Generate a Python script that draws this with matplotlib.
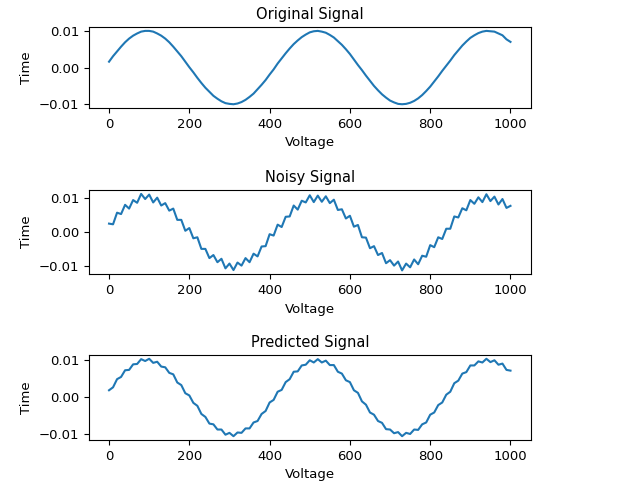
import numpy as np
import matplotlib
matplotlib.use("Agg")
import matplotlib.pyplot as plt

x_vals = list(range(0, 1001, 10))
base = [0.16,0.31,0.44,0.57,0.69,0.79,0.87,0.93,0.98,1.00,1.00,0.98,0.93,0.87,0.79,0.69,0.57,0.44,0.31,0.16,
        0.01,-0.13,-0.28,-0.42,-0.55,-0.66,-0.77,-0.85,-0.92,-0.97,-0.99,-1.00,-0.98,-0.94,-0.88,-0.80,-0.71,-0.59,-0.47,-0.34,
        -0.19,-0.05,0.11,0.25,0.39,0.52,0.64,0.74,0.83,0.90,0.96,0.99,1.00,0.98,0.95,0.89,0.82,0.72,0.62,0.50,
        0.37,0.22,0.07,-0.07,-0.22,-0.36,-0.50,-0.62,-0.73,-0.82,-0.90,-0.95,-0.99,-1.00,-0.99,-0.96,-0.91,-0.84,-0.75,-0.64,
        -0.52,-0.38,-0.24,-0.09,0.05,0.19,0.34,0.47,0.60,0.71,0.81,0.88,0.94,0.98,1.00,0.99,0.98,0.93,0.88,0.77,0.70]
noise_a = [0.08,-0.09,0.12,-0.05,0.10,-0.11,0.06,-0.08,0.13,-0.04,0.09,-0.12,0.07,-0.10,0.05,-0.07,0.11,-0.09,0.04,-0.13,
           0.10,-0.06,0.12,-0.08,0.05,-0.11,0.09,-0.04,0.13,-0.10,0.06,-0.12,0.08,-0.05,0.11,-0.09,0.07,-0.13,0.04,-0.08,
           0.12,-0.06,0.10,-0.11,0.05,-0.07,0.13,-0.09,0.08,-0.04,0.11,-0.12,0.06,-0.10,0.09,-0.05,0.12,-0.08,0.04,-0.11,
           0.10,-0.07,0.13,-0.09,0.05,-0.12,0.08,-0.06,0.11,-0.10,0.07,-0.04,0.12,-0.13,0.06,-0.08,0.10,-0.11,0.05,-0.09,
           0.13,-0.07,0.08,-0.12,0.04,-0.10,0.11,-0.05,0.09,-0.08,0.12,-0.06,0.07,-0.11,0.10,-0.09,0.05,-0.13,0.08,-0.07,0.06]
noise_b = [0.03,-0.04,0.05,-0.02,0.04,-0.05,0.02,-0.03,0.05,-0.02,0.04,-0.05,0.03,-0.04,0.02,-0.03,0.05,-0.04,0.02,-0.05,
           0.04,-0.02,0.05,-0.03,0.02,-0.05,0.04,-0.02,0.05,-0.04,0.03,-0.05,0.03,-0.02,0.04,-0.04,0.03,-0.05,0.02,-0.03,
           0.05,-0.02,0.04,-0.05,0.02,-0.03,0.05,-0.04,0.03,-0.02,0.04,-0.05,0.03,-0.04,0.04,-0.02,0.05,-0.03,0.02,-0.04,
           0.04,-0.03,0.05,-0.04,0.02,-0.05,0.03,-0.02,0.04,-0.04,0.03,-0.02,0.05,-0.05,0.03,-0.03,0.04,-0.04,0.02,-0.04,
           0.05,-0.03,0.03,-0.05,0.02,-0.04,0.04,-0.02,0.04,-0.03,0.05,-0.02,0.03,-0.04,0.04,-0.04,0.02,-0.05,0.03,-0.03,0.02]
titles = ["Original Signal", "Noisy Signal", "Predicted Signal"]
scale = 0.01

b = np.array(base) * scale
series = [b, b + np.array(noise_a) * scale, b + np.array(noise_b) * scale]
x = np.array(x_vals)

fig = plt.figure(figsize=(6.4, 4.95), dpi=100)
boxes = [(0.139, 0.782, 0.69, 0.163), (0.139, 0.446, 0.69, 0.170), (0.139, 0.111, 0.69, 0.172)]
for box, t, y in zip(boxes, titles, series):
    ax = fig.add_axes(box)
    ax.plot(x, y, color="#1f77b4", lw=1.5)
    ax.set_title(t, fontsize=10.5)
    ax.set_xlabel("Voltage", fontsize=9.5)
    ax.set_ylabel("Time", fontsize=9.5)
    ax.set_xticks([0, 200, 400, 600, 800, 1000])
    ax.set_yticks([-0.01, 0.0, 0.01])
    ax.tick_params(labelsize=9.5)
    ax.set_xlim(-50, 1050)
fig.savefig("out.png")
